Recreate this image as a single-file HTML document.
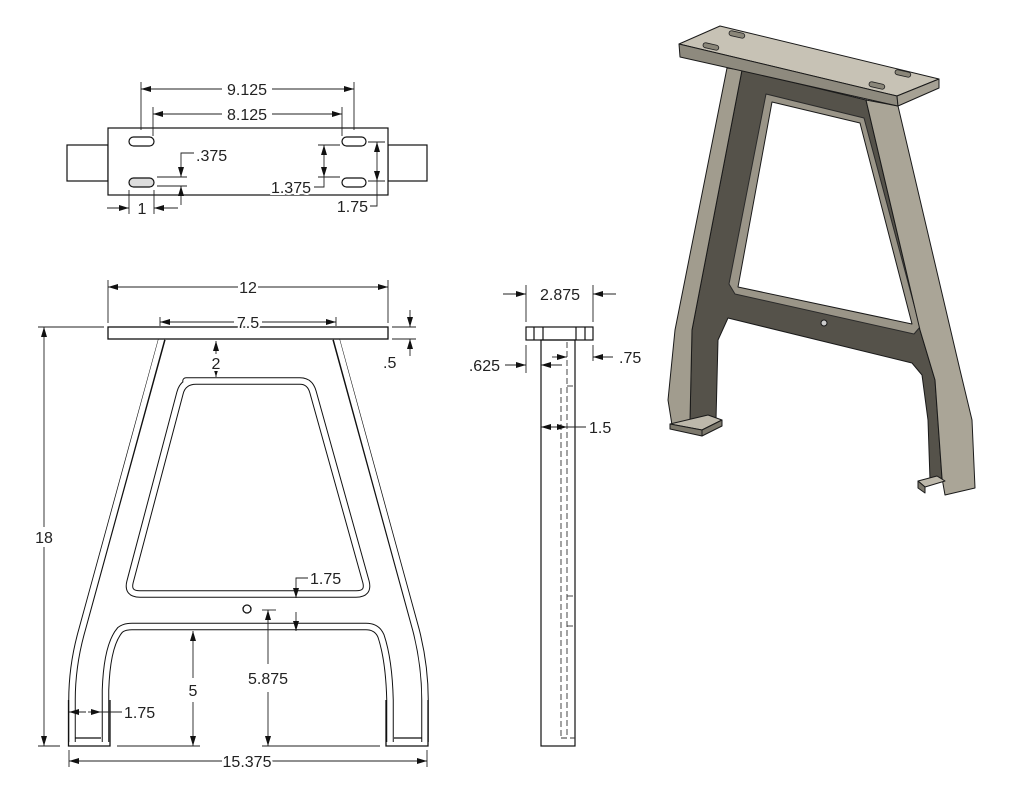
<!DOCTYPE html>
<html><head><meta charset="utf-8"><style>
html,body{margin:0;padding:0;background:#fff;}
svg{display:block;}
text{font-family:"Liberation Sans",Arial,sans-serif;font-size:16px;fill:#222;stroke:#fff;stroke-width:4px;paint-order:stroke;}
</style></head><body>
<svg width="1024" height="791" viewBox="0 0 1024 791" xmlns="http://www.w3.org/2000/svg">
<defs>
<marker id="a" viewBox="0 0 10 6" refX="10" refY="3" markerWidth="10" markerHeight="6" markerUnits="userSpaceOnUse" orient="auto-start-reverse"><path d="M0,0 L10,3 L0,6 Z" fill="#111"/></marker>
</defs>

<!-- ================= TOP VIEW ================= -->
<g fill="none" stroke="#111" stroke-width="1.2">
<rect x="67" y="145" width="41" height="36"/>
<rect x="388" y="145" width="39" height="36"/>
<rect x="108" y="128" width="280" height="67" fill="#fff"/>
<rect x="129" y="137" width="25" height="9" rx="4.5"/>
<rect x="129" y="178" width="25" height="9" rx="4.5" fill="#ddd"/>
<rect x="342" y="137" width="24" height="9" rx="4.5"/>
<rect x="342" y="178" width="24" height="9" rx="4.5"/>
</g>
<g stroke="#222" stroke-width="0.9" fill="none">
<line x1="141" y1="82" x2="141" y2="130"/><line x1="354" y1="82" x2="354" y2="130"/>
<line x1="222" y1="89" x2="141" y2="89" marker-end="url(#a)"/><line x1="272" y1="89" x2="354" y2="89" marker-end="url(#a)"/>
<line x1="153" y1="107" x2="153" y2="136"/><line x1="342" y1="107" x2="342" y2="136"/>
<line x1="222" y1="114" x2="153" y2="114" marker-end="url(#a)"/><line x1="272" y1="114" x2="342" y2="114" marker-end="url(#a)"/>
<line x1="157" y1="177" x2="187" y2="177"/><line x1="157" y1="186" x2="187" y2="186"/>
<polyline points="194,153 181,153 181,177" marker-end="url(#a)"/>
<line x1="181" y1="205" x2="181" y2="186" marker-end="url(#a)"/>
<line x1="129" y1="190" x2="129" y2="214"/><line x1="154" y1="190" x2="154" y2="214"/>
<line x1="107" y1="208" x2="129" y2="208" marker-end="url(#a)"/><line x1="178" y1="208" x2="154" y2="208" marker-end="url(#a)"/>
<line x1="318" y1="145" x2="340" y2="145"/><line x1="318" y1="177" x2="340" y2="177"/>
<line x1="324" y1="160" x2="324" y2="145" marker-end="url(#a)"/><line x1="324" y1="160" x2="324" y2="177" marker-end="url(#a)"/>
<polyline points="324,177 324,187 314,187"/>
<line x1="368" y1="142" x2="385" y2="142"/><line x1="368" y1="181" x2="385" y2="181"/>
<line x1="377" y1="162" x2="377" y2="142" marker-end="url(#a)"/><line x1="377" y1="162" x2="377" y2="181" marker-end="url(#a)"/>
<polyline points="377,181 377,206 370,206"/>
</g>
<text x="247" y="95" text-anchor="middle">9.125</text>
<text x="247" y="120" text-anchor="middle">8.125</text>
<text x="196" y="161">.375</text>
<text x="142" y="214" text-anchor="middle">1</text>
<text x="311" y="193" text-anchor="end">1.375</text>
<text x="368" y="212" text-anchor="end">1.75</text>

<!-- ================= FRONT VIEW ================= -->
<g fill="none" stroke-linejoin="round">
<g stroke="#111" stroke-width="7.5">
<path d="M162,339 L82,630 Q72,665 72,700 L72,742"/>
<path d="M336,339 L416,630 Q425,665 425,700 L425,742"/>
<path d="M105.5,742 L105.5,690 Q107,645 120,630 Q124,626.5 132,626.5 L366,626.5 Q377,626.5 381,636 Q389,660 390,700 L390,742"/>
<path d="M186,381 Q189,381 200,381 L300,381 Q310,381 313,392 L366,582 Q369,594 356,594 L140,594 Q127,594 130,582 L180,393 Q183,381 196,381 Z"/>
</g>
<g stroke="#fff" stroke-width="5.5">
<path d="M162,337 L82,630 Q72,665 72,700 L72,744"/>
<path d="M336,337 L416,630 Q425,665 425,700 L425,744"/>
<path d="M105.5,744 L105.5,690 Q107,645 120,630 Q124,626.5 132,626.5 L366,626.5 Q377,626.5 381,636 Q389,660 390,700 L390,744"/>
<path d="M186,381 Q189,381 200,381 L300,381 Q310,381 313,392 L366,582 Q369,594 356,594 L140,594 Q127,594 130,582 L180,393 Q183,381 196,381 Z"/>
</g>
</g>
<g fill="none" stroke="#111" stroke-width="1.3">
<rect x="108" y="327" width="280" height="12" fill="#fff"/>
<polyline points="68.5,700 68.5,746 110,746 110,700"/>
<line x1="75" y1="738" x2="101" y2="738"/>
<polyline points="386,700 386,746 428,746 428,700"/>
<line x1="394" y1="738" x2="422" y2="738"/>
<circle cx="247" cy="609" r="4"/>
</g>
<g stroke="#222" stroke-width="0.9" fill="none">
<line x1="108" y1="280" x2="108" y2="323"/><line x1="388" y1="280" x2="388" y2="323"/>
<line x1="238" y1="287" x2="108" y2="287" marker-end="url(#a)"/><line x1="258" y1="287" x2="388" y2="287" marker-end="url(#a)"/>
<line x1="160" y1="317" x2="160" y2="326"/><line x1="336" y1="317" x2="336" y2="326"/>
<line x1="234" y1="322" x2="160" y2="322" marker-end="url(#a)"/><line x1="262" y1="322" x2="336" y2="322" marker-end="url(#a)"/>
<line x1="38" y1="327" x2="104" y2="327"/><line x1="38" y1="746" x2="60" y2="746"/>
<line x1="44" y1="527" x2="44" y2="327" marker-end="url(#a)"/><line x1="44" y1="547" x2="44" y2="746" marker-end="url(#a)"/>
<line x1="392" y1="327" x2="416" y2="327"/><line x1="392" y1="339" x2="416" y2="339"/>
<line x1="410" y1="310" x2="410" y2="327" marker-end="url(#a)"/><line x1="410" y1="356" x2="410" y2="339" marker-end="url(#a)"/>
<line x1="216" y1="354" x2="216" y2="341" marker-end="url(#a)"/><line x1="216" y1="370" x2="216" y2="377" marker-end="url(#a)"/>
<polyline points="308,578 296,578 296,598" marker-end="url(#a)"/>
<line x1="296" y1="612" x2="296" y2="631" marker-end="url(#a)"/>
<line x1="262" y1="610" x2="276" y2="610"/>
<line x1="268" y1="664" x2="268" y2="610" marker-end="url(#a)"/><line x1="268" y1="692" x2="268" y2="746" marker-end="url(#a)"/>
<line x1="193" y1="678" x2="193" y2="631" marker-end="url(#a)"/><line x1="193" y1="702" x2="193" y2="746" marker-end="url(#a)"/>
<line x1="117" y1="746" x2="200" y2="746"/><line x1="262" y1="746" x2="380" y2="746"/>
<line x1="86" y1="712" x2="69" y2="712" marker-end="url(#a)"/><line x1="88" y1="712" x2="101" y2="712" marker-end="url(#a)"/>
<line x1="101" y1="712" x2="122" y2="712"/>
<line x1="69" y1="750" x2="69" y2="767"/><line x1="427" y1="750" x2="427" y2="767"/>
<line x1="222" y1="761" x2="69" y2="761" marker-end="url(#a)"/><line x1="272" y1="761" x2="427" y2="761" marker-end="url(#a)"/>
</g>
<text x="248" y="293" text-anchor="middle">12</text>
<text x="248" y="328" text-anchor="middle">7.5</text>
<text x="44" y="543" text-anchor="middle">18</text>
<text x="383" y="368">.5</text>
<text x="216" y="369" text-anchor="middle">2</text>
<text x="310" y="584">1.75</text>
<text x="268" y="684" text-anchor="middle">5.875</text>
<text x="193" y="696" text-anchor="middle">5</text>
<text x="124" y="718">1.75</text>
<text x="247" y="767" text-anchor="middle">15.375</text>

<!-- ================= SIDE VIEW ================= -->
<g fill="none" stroke="#111" stroke-width="1.2">
<rect x="526" y="327" width="67" height="13"/>
<line x1="534" y1="327" x2="534" y2="340"/><line x1="543" y1="327" x2="543" y2="340"/>
<line x1="576" y1="327" x2="576" y2="340"/><line x1="585" y1="327" x2="585" y2="340"/>
<rect x="541" y="340" width="34" height="406"/>
</g>
<g fill="none" stroke="#333" stroke-width="0.9" stroke-dasharray="6,3">
<line x1="567" y1="342" x2="567" y2="738"/>
<line x1="561" y1="388" x2="561" y2="738"/>
<line x1="561" y1="738" x2="575" y2="738"/>
<line x1="567" y1="386" x2="575" y2="386"/>
<line x1="567" y1="626" x2="575" y2="626"/>
<line x1="567" y1="596" x2="575" y2="596"/>
</g>
<g stroke="#222" stroke-width="0.9" fill="none">
<line x1="526" y1="285" x2="526" y2="322"/><line x1="593" y1="285" x2="593" y2="322"/>
<line x1="503" y1="294" x2="526" y2="294" marker-end="url(#a)"/><line x1="616" y1="294" x2="593" y2="294" marker-end="url(#a)"/>
<line x1="526" y1="345" x2="526" y2="373"/>
<line x1="505" y1="365" x2="526" y2="365" marker-end="url(#a)"/><line x1="562" y1="365" x2="541" y2="365" marker-end="url(#a)"/>
<line x1="593" y1="345" x2="593" y2="361"/>
<line x1="552" y1="357" x2="567" y2="357" marker-end="url(#a)"/><line x1="613" y1="357" x2="593" y2="357" marker-end="url(#a)"/>
<line x1="560" y1="427" x2="541" y2="427" marker-end="url(#a)"/><line x1="555" y1="427" x2="567" y2="427" marker-end="url(#a)"/>
<line x1="567" y1="427" x2="586" y2="427"/>
</g>
<text x="560" y="300" text-anchor="middle">2.875</text>
<text x="500" y="371" text-anchor="end">.625</text>
<text x="619" y="363">.75</text>
<text x="589" y="433">1.5</text>

<!-- ================= ISO VIEW ================= -->
<g stroke="#1a1a1a" stroke-width="1" stroke-linejoin="round">
<polygon fill="#55524a" points="742,70 866,100 920,330 935,380 942,478 930,480 928,420 922,375 912,363 728,318 718,340 716,420 705,425 690,420 692,330"/>
<polygon fill="#9a9588" stroke="#2a2a2a" points="766,94 864,118 920,327 914,334 735,294 729,284"/>
<polygon fill="#fff" points="772,102 860,123 912,324 738,287"/>
<polygon fill="#a19c8e" points="727,68 742,70 692,330 690,420 672,425 668,400 675,330"/>
<polygon fill="#aaa597" points="866,100 898,106 960,370 972,420 975,488 945,495 942,478 935,380 920,330"/>
<polygon fill="#bdb8ab" points="670,424 708,415 722,420 702,430"/>
<polygon fill="#7d796d" points="670,424 702,430 702,436 670,429"/>
<polygon fill="#7d796d" points="702,430 722,420 722,426 702,436"/>
<polygon fill="#bdb8ab" points="918,481 937,476 945,481 925,487"/>
<polygon fill="#7d796d" points="918,481 925,487 925,493 918,488"/>
<polygon fill="#c7c2b5" points="679,44 720,26 939,79 897,96"/>
<polygon fill="#8e8a7e" points="679,44 897,96 898,106 680,57"/>
<polygon fill="#a6a194" points="897,96 939,79 939,88 898,106"/>
<circle cx="824" cy="323" r="3" fill="#ccc"/>
</g>
<g fill="#8a8679" stroke="#222" stroke-width="0.8">
<rect x="729" y="32" width="16" height="5" rx="2.5" transform="rotate(13 737 34)"/>
<rect x="703" y="44" width="16" height="5" rx="2.5" transform="rotate(13 711 46)"/>
<rect x="895" y="71" width="16" height="5" rx="2.5" transform="rotate(13 903 73)"/>
<rect x="869" y="83" width="16" height="5" rx="2.5" transform="rotate(13 877 85)"/>
</g>
</svg>
</body></html>
